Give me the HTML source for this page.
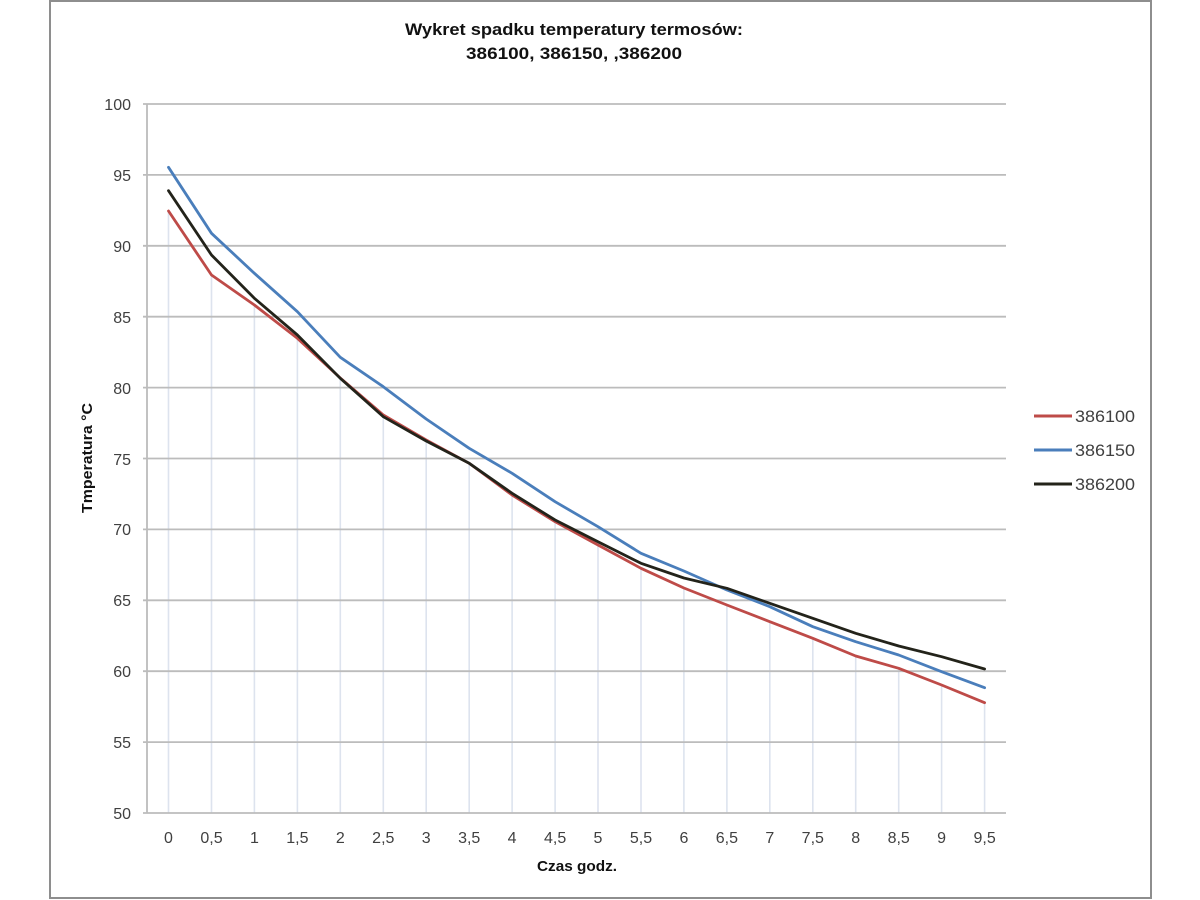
<!DOCTYPE html>
<html>
<head>
<meta charset="utf-8">
<style>
  html,body{margin:0;padding:0;background:#fff;}
  svg{display:block;}
  text{font-family:"Liberation Sans", Arial, sans-serif;}
</style>
</head>
<body>
<svg width="1200" height="900" viewBox="0 0 1200 900" xmlns="http://www.w3.org/2000/svg">
  <rect x="0" y="0" width="1200" height="900" fill="#fff"/>
  <!-- outer border -->
  <rect x="50" y="1" width="1101" height="897" fill="none" stroke="#8e8e8e" stroke-width="2"/>

  <!-- title -->
  <text x="574" y="35" text-anchor="middle" font-size="17" font-weight="bold" fill="#111" textLength="338" lengthAdjust="spacingAndGlyphs">Wykret spadku temperatury termosów:</text>
  <text x="574" y="59" text-anchor="middle" font-size="17" font-weight="bold" fill="#111" textLength="216" lengthAdjust="spacingAndGlyphs">386100, 386150, ,386200</text>

  <!-- drop lines -->
  <g stroke="#dde3ee" stroke-width="1.6">
    <line x1="168.5" y1="211" x2="168.5" y2="813"/>
    <line x1="211.5" y1="275" x2="211.5" y2="813"/>
    <line x1="254.4" y1="305" x2="254.4" y2="813"/>
    <line x1="297.4" y1="338" x2="297.4" y2="813"/>
    <line x1="340.3" y1="378" x2="340.3" y2="813"/>
    <line x1="383.3" y1="417" x2="383.3" y2="813"/>
    <line x1="426.2" y1="441" x2="426.2" y2="813"/>
    <line x1="469.2" y1="463" x2="469.2" y2="813"/>
    <line x1="512.1" y1="495" x2="512.1" y2="813"/>
    <line x1="555.1" y1="522" x2="555.1" y2="813"/>
    <line x1="598.0" y1="545" x2="598.0" y2="813"/>
    <line x1="641.0" y1="568" x2="641.0" y2="813"/>
    <line x1="683.9" y1="588" x2="683.9" y2="813"/>
    <line x1="726.9" y1="605" x2="726.9" y2="813"/>
    <line x1="769.8" y1="622" x2="769.8" y2="813"/>
    <line x1="812.8" y1="638" x2="812.8" y2="813"/>
    <line x1="855.7" y1="656" x2="855.7" y2="813"/>
    <line x1="898.7" y1="668" x2="898.7" y2="813"/>
    <line x1="941.6" y1="685" x2="941.6" y2="813"/>
    <line x1="984.6" y1="703" x2="984.6" y2="813"/>
  </g>

  <!-- horizontal gridlines -->
  <g stroke="#bcbcbc" stroke-width="1.8">
    <line x1="143" y1="104" x2="1006" y2="104"/>
    <line x1="143" y1="174.9" x2="1006" y2="174.9"/>
    <line x1="143" y1="245.8" x2="1006" y2="245.8"/>
    <line x1="143" y1="316.7" x2="1006" y2="316.7"/>
    <line x1="143" y1="387.6" x2="1006" y2="387.6"/>
    <line x1="143" y1="458.5" x2="1006" y2="458.5"/>
    <line x1="143" y1="529.4" x2="1006" y2="529.4"/>
    <line x1="143" y1="600.3" x2="1006" y2="600.3"/>
    <line x1="143" y1="671.2" x2="1006" y2="671.2"/>
    <line x1="143" y1="742.1" x2="1006" y2="742.1"/>
    <line x1="143" y1="813" x2="1006" y2="813"/>
    <line x1="147" y1="104" x2="147" y2="813"/>
  </g>

  <!-- y tick labels -->
  <g font-size="16" fill="#404040" text-anchor="end">
    <text x="131" y="110">100</text>
    <text x="131" y="181">95</text>
    <text x="131" y="252">90</text>
    <text x="131" y="323">85</text>
    <text x="131" y="394">80</text>
    <text x="131" y="465">75</text>
    <text x="131" y="535">70</text>
    <text x="131" y="606">65</text>
    <text x="131" y="677">60</text>
    <text x="131" y="748">55</text>
    <text x="131" y="819">50</text>
  </g>

  <!-- x tick labels -->
  <g font-size="16" fill="#404040" text-anchor="middle">
    <text x="168.5" y="843">0</text>
    <text x="211.5" y="843">0,5</text>
    <text x="254.4" y="843">1</text>
    <text x="297.4" y="843">1,5</text>
    <text x="340.3" y="843">2</text>
    <text x="383.3" y="843">2,5</text>
    <text x="426.2" y="843">3</text>
    <text x="469.2" y="843">3,5</text>
    <text x="512.1" y="843">4</text>
    <text x="555.1" y="843">4,5</text>
    <text x="598.0" y="843">5</text>
    <text x="641.0" y="843">5,5</text>
    <text x="683.9" y="843">6</text>
    <text x="726.9" y="843">6,5</text>
    <text x="769.8" y="843">7</text>
    <text x="812.8" y="843">7,5</text>
    <text x="855.7" y="843">8</text>
    <text x="898.7" y="843">8,5</text>
    <text x="941.6" y="843">9</text>
    <text x="984.6" y="843">9,5</text>
  </g>

  <!-- axis titles -->
  <text x="577" y="871" text-anchor="middle" font-size="15" font-weight="bold" fill="#111" textLength="80" lengthAdjust="spacingAndGlyphs">Czas godz.</text>
  <text transform="translate(92,458) rotate(-90)" text-anchor="middle" font-size="15" font-weight="bold" fill="#111" textLength="110" lengthAdjust="spacingAndGlyphs">Tmperatura °C</text>

  <!-- series -->
  <g fill="none" stroke-width="2.8" stroke-linejoin="round" stroke-linecap="round">
    <!-- 386100 red -->
    <polyline stroke="#be4b48" points="168.5,211 211.5,275 254.4,305 297.4,338.3 340.3,378 383.3,415 426.2,440 469.2,463.3 512.1,495 555.1,521.7 598.0,545 641.0,568.3 683.9,588 726.9,605 769.8,621.7 812.8,638.3 855.7,656 898.7,668.3 941.6,685 984.6,702.7"/>
    <!-- 386150 blue -->
    <polyline stroke="#4a7ebb" points="168.5,167.3 211.5,233.3 254.4,273.3 297.4,311.7 340.3,357.3 383.3,386.7 426.2,419 469.2,448.3 512.1,473.3 555.1,501.7 598.0,526.7 641.0,553.3 683.9,571 726.9,590 769.8,606.7 812.8,626.7 855.7,641.7 898.7,655 941.6,671.7 984.6,687.7"/>
    <!-- 386200 black -->
    <polyline stroke="#23231a" points="168.5,190.7 211.5,255 254.4,298.3 297.4,335 340.3,378.3 383.3,416.7 426.2,441 469.2,463.3 512.1,493.3 555.1,520 598.0,541.7 641.0,563.3 683.9,578 726.9,588.3 769.8,603.3 812.8,618.3 855.7,633.3 898.7,646 941.6,656.7 984.6,669"/>
  </g>

  <!-- legend -->
  <g stroke-width="3">
    <line x1="1034" y1="416" x2="1072" y2="416" stroke="#be4b48"/>
    <line x1="1034" y1="450" x2="1072" y2="450" stroke="#4a7ebb"/>
    <line x1="1034" y1="484" x2="1072" y2="484" stroke="#23231a"/>
  </g>
  <g font-size="17" fill="#404040">
    <text x="1075" y="422" textLength="60" lengthAdjust="spacingAndGlyphs">386100</text>
    <text x="1075" y="456" textLength="60" lengthAdjust="spacingAndGlyphs">386150</text>
    <text x="1075" y="490" textLength="60" lengthAdjust="spacingAndGlyphs">386200</text>
  </g>
</svg>
</body>
</html>
